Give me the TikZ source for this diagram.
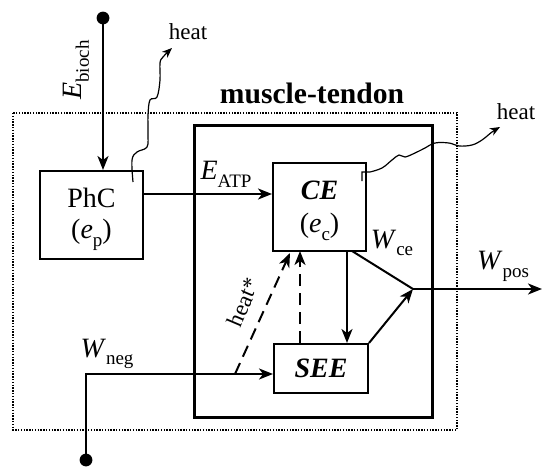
\documentclass[tikz,border=0pt]{standalone}
\usepackage{fontspec}
\setmainfont{Liberation Serif}
\usetikzlibrary{arrows.meta}
\newcommand\sbs[1]{\raisebox{-0.6ex}{\fontsize{9.5}{10}\selectfont #1}}
\begin{document}
\begin{tikzpicture}[x=0.5pt,y=-0.5pt,
  every node/.style={font=\fontsize{14}{18}\selectfont, inner sep=0pt},
  box/.style={draw, line width=1pt, minimum width=#1},
  arr/.style={line width=1pt, -{Stealth[length=7pt,width=5.5pt,inset=2pt]}},
  plain/.style={line width=1pt},
  dsh/.style={arr, dash pattern=on 6pt off 3.5pt},
  wavy/.style={line width=0.6pt, -{Stealth[length=5pt,width=4pt,inset=1.5pt]}},
  small/.style={font=\fontsize{11.5}{13}\selectfont},
  dotbox/.style={line width=0.9pt, dash pattern=on 0.7pt off 0.7pt}]
\useasboundingbox (0,0) rectangle (544,466);
% frames
\draw[dotbox] (13,113) rectangle (457,430);
\draw[line width=1.5pt] (194,125) rectangle (432,417);
% blocks
\node[box=51.5pt, minimum height=44pt] (phc) at (91.5,215) {};
\node (phct) at (91.5,198) {PhC};
\node (phce) at (91.5,235) {(\textit{e}\sbs{p})};
\node[box=46.5pt, minimum height=44pt] (ce) at (319.5,207) {};
\node (cet) at (319.5,190) {\textbf{\textit{CE}}};
\node (cee) at (319.5,227) {(\textit{e}\sbs{c})};
\node[box=47pt, minimum height=24.5pt] (see) at (321,368.5) {\textbf{\textit{SEE}}};
% points
\fill (103,18) circle (3.2pt) coordinate (bioch);
\fill (86,460) circle (3.2pt) coordinate (neg);
\coordinate (atpy) at (0,194);
\coordinate (j) at (413,289);
\coordinate (pos) at (542,289);
\coordinate (negc) at (86,374);
\coordinate (ceb1) at (352,251);
\coordinate (ceb2) at (347,251);
\coordinate (ceb3) at (300,251);
\coordinate (ceb4) at (290,253);
\coordinate (hs) at (235,374);
% connectors
\draw[arr] (bioch) -- (bioch |- phc.north);
\draw[arr] (phc.east |- atpy) -- (ce.west |- atpy);
\draw[plain] (ceb1) -- (j);
\draw[arr] (see.north east) -- (j);
\draw[arr] (j) -- (pos);
\draw[arr] (ceb2) -- (ceb2 |- see.north);
\draw[dsh] (ceb3 |- see.north) -- (ceb3);
\draw[dsh] (hs) -- (ceb4);
\draw[arr] (neg) -- (negc) -- (see.west |- negc);
% wavy heat
\draw[wavy] plot[smooth, tension=0.6] coordinates {(133,182) (132,160) (137,152) (147,147) (148,133) (148,115) (150,100) (157,97) (160,80) (160,63) (163,57) (172,48)};
\draw[wavy] (362,181) -- (362,172) -- (370,172) plot[smooth, tension=0.6] coordinates {(370,172) (382,168) (392,160) (399,155) (405,157) (415,153) (425,148) (435,143) (449,143) (459,146) (472,145) (482,140) (492,132) (500,127)};
% labels
\node[rotate=90] (lb) at (76,70) {\textit{E}\sbs{bioch}};
\node[small] (h1) at (188,32) {heat};
\node[small] (h2) at (516,112) {heat};
\node[font=\fontsize{14.8}{17}\selectfont\bfseries] (mt) at (312,93) {muscle-tendon};
\node (latp) at (226,174) {\textit{E}\sbs{ATP}};
\node (lwce) at (392,243) {\textit{W}\sbs{ce}};
\node (lwpos) at (503,266) {\textit{W}\sbs{pos}};
\node (lwneg) at (107,354) {\textit{W}\sbs{neg}};
\node[small, rotate=67] (hst) at (243,302) {heat*};
\end{tikzpicture}
\end{document}
